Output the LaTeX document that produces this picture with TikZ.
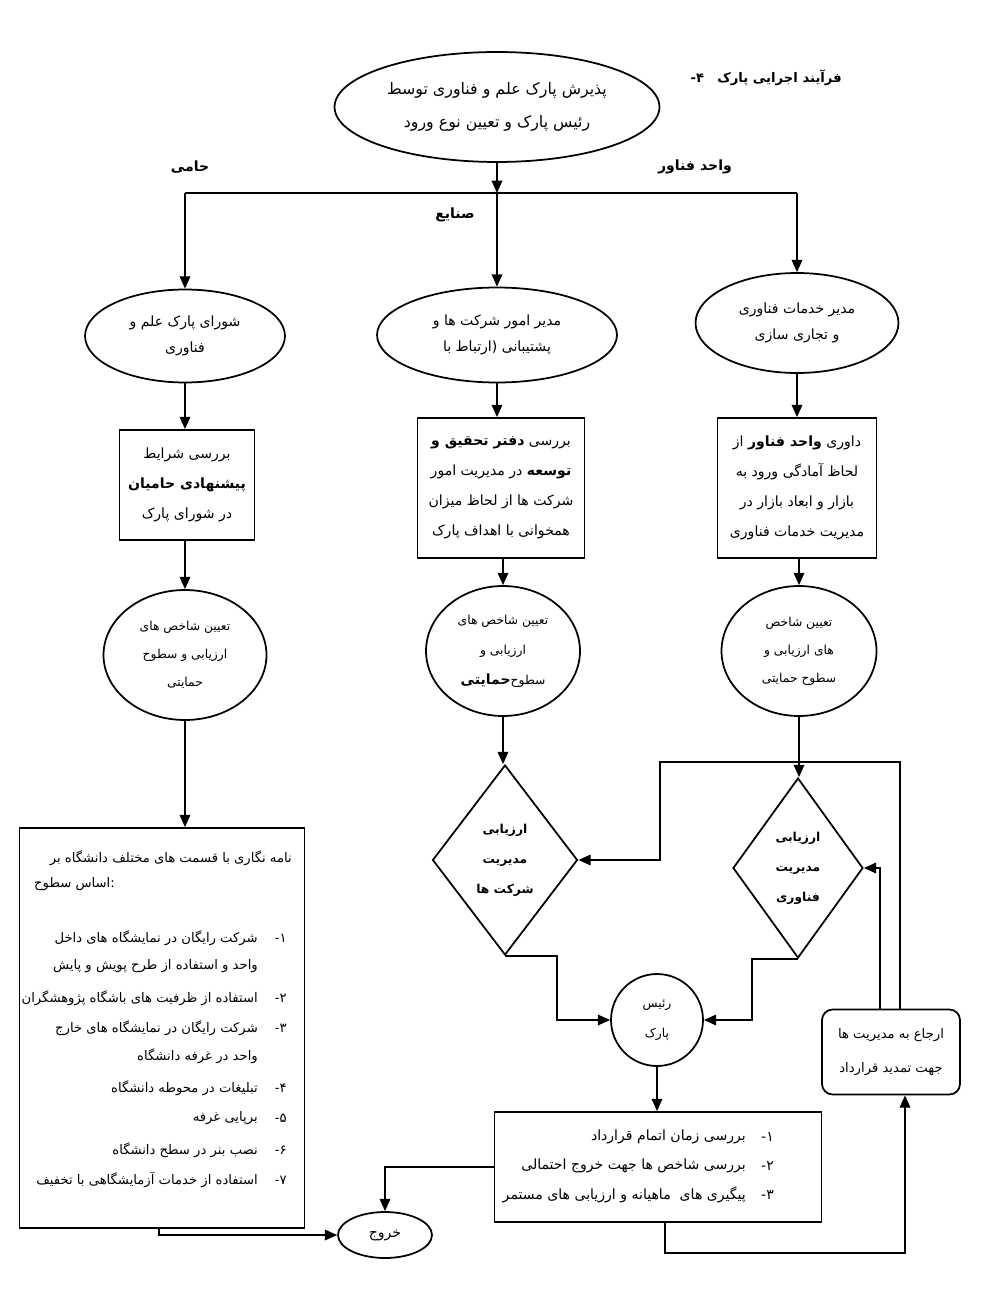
\documentclass[tikz,border=0pt]{standalone}
\usepackage{fontspec}
\setmainfont{DejaVu Sans}
\newfontfamily\farsi[Script=Arabic]{DejaVu Sans}
\TeXXeTstate=1
\usetikzlibrary{arrows.meta,positioning,calc,shapes.geometric}
\newcommand{\rl}[1]{\beginR #1\endR}

\begin{document}
\begin{tikzpicture}[x=0.02cm,y=-0.02cm,
  every node/.style={font=\farsi\fontsize{8}{15}\selectfont},
  oval/.style={draw,line width=1pt,ellipse,inner sep=0pt,align=center},
  box/.style={draw,line width=1pt,rectangle,inner sep=0pt,align=center},
  rhomb/.style={draw,line width=1pt,diamond,aspect=0.75,inner sep=0pt,align=center},
  item/.style={anchor=east,font=\farsi\fontsize{7.5}{15}\selectfont},
  flow/.style={line width=1pt,-{Triangle[length=7pt,width=6pt]}},
  link/.style={line width=1pt}]
  \useasboundingbox (0,0) rectangle (1000,1294);

  % entry and the three routes
  \node[anchor=east,font=\farsi\bfseries\fontsize{7.5}{15}\selectfont] (title) at (848,78) {۴-\quad\rl{فرآیند اجرایی پارک}};
  \node[oval,minimum width=6.5cm,minimum height=2.2cm,font=\farsi\fontsize{9}{19}\selectfont] (entry) at (497,107)
    {\rl{پذیرش پارک علم و فناوری توسط}\\\rl{رئیس پارک و تعیین نوع ورود}};
  \coordinate (split) at (497,193);
  \coordinate (splitL) at (185,193);
  \coordinate (splitR) at (797,193);
  \node[font=\farsi\bfseries\fontsize{8}{15}\selectfont] (hami) at (190,167) {\rl{حامی}};
  \node[font=\farsi\bfseries\fontsize{8}{15}\selectfont] (vahed) at (695,167) {\rl{واحد فناور}};
  \node[font=\farsi\bfseries\fontsize{8}{15}\selectfont] (sanaye) at (455,215) {\rl{صنایع}};

  \node[oval,minimum width=4cm,minimum height=1.86cm] (council) at (185,336)
    {\rl{شورای پارک علم و}\\\rl{فناوری}};
  \node[oval,minimum width=4.8cm,minimum height=1.9cm] (affairs) at (497,335)
    {\rl{مدیر امور شرکت ها و}\\\rl{پشتیبانی (ارتباط با}};
  \node[oval,minimum width=4.06cm,minimum height=2cm] (techsrv) at (797,323)
    {\rl{مدیر خدمات فناوری}\\\rl{و تجاری سازی}};

  \node[box,minimum width=2.7cm,minimum height=2.2cm,font=\farsi\fontsize{8}{17}\selectfont] (reviewL) at (187,485)
    {\rl{بررسی شرایط}\\\rl{\bfseries پیشنهادی حامیان}\\\rl{در شورای پارک}};
  \node[box,minimum width=3.34cm,minimum height=2.8cm,font=\farsi\fontsize{8}{17}\selectfont] (reviewM) at (501,488)
    {\rl{بررسی {\bfseries دفتر تحقیق و}}\\\rl{{\bfseries توسعه} در مدیریت امور}\\\rl{شرکت ها از لحاظ میزان}\\\rl{همخوانی با اهداف پارک}};
  \node[box,minimum width=3.18cm,minimum height=2.8cm,font=\farsi\fontsize{8}{17}\selectfont] (reviewR) at (797,488)
    {\rl{داوری {\bfseries واحد فناور} از}\\\rl{لحاظ آمادگی ورود به}\\\rl{بازار و ابعاد بازار در}\\\rl{مدیریت خدمات فناوری}};

  \node[oval,minimum width=3.26cm,minimum height=2.6cm,font=\farsi\fontsize{7}{16}\selectfont] (indexL) at (185,655)
    {\rl{تعیین شاخص های}\\\rl{ارزیابی و سطوح}\\\rl{حمایتی}};
  \node[oval,minimum width=3.08cm,minimum height=2.6cm,font=\farsi\fontsize{7}{17}\selectfont] (indexM) at (503,651)
    {\rl{تعیین شاخص های}\\\rl{ارزیابی و}\\\rl{سطوح{\bfseries\fontsize{8}{17}\selectfont حمایتی}}};
  \node[oval,minimum width=3.1cm,minimum height=2.6cm,font=\farsi\fontsize{7}{16}\selectfont] (indexR) at (799,651)
    {\rl{تعیین شاخص}\\\rl{های ارزیابی و}\\\rl{سطوح حمایتی}};

  \node[rhomb,minimum width=2.9cm,minimum height=3.8cm,font=\farsi\bfseries\fontsize{7}{17}\selectfont] (evalM) at (505,860)
    {\rl{ارزیابی}\\\rl{مدیریت}\\\rl{شرکت ها}};
  \node[rhomb,minimum width=2.6cm,minimum height=3.6cm,font=\farsi\bfseries\fontsize{7}{17}\selectfont] (evalR) at (798,868)
    {\rl{ارزیابی}\\\rl{مدیریت}\\\rl{فناوری}};

  \node[oval,circle,minimum size=1.84cm,font=\farsi\fontsize{7}{17}\selectfont] (head) at (657,1020)
    {\rl{رئیس}\\\rl{پارک}};
  \node[box,minimum width=6.54cm,minimum height=2.2cm] (checks) at (658,1167) {};
  \node[anchor=east] (chk1n) at (780,1137) {\rl{۱-}};
  \node[anchor=east] (chk1) at (752,1137) {\rl{بررسی زمان اتمام قرارداد}};
  \node[anchor=east] (chk2n) at (780,1166) {\rl{۲-}};
  \node[anchor=east] (chk2) at (752,1166) {\rl{بررسی شاخص ها جهت خروج احتمالی}};
  \node[anchor=east] (chk3n) at (780,1195) {\rl{۳-}};
  \node[anchor=east] (chk3) at (752,1195) {\rl{پیگیری های\ \ ماهیانه و ارزیابی های مستمر}};
  \node[box,rounded corners=6pt,minimum width=2.76cm,minimum height=1.7cm,font=\farsi\fontsize{7.5}{19}\selectfont] (renew) at (891,1052)
    {\rl{ارجاع به مدیریت ها}\\\rl{جهت تمدید قرارداد}};
  \coordinate (loopTop) at (660,762);

  % sponsor letters
  \node[box,minimum width=5.7cm,minimum height=8cm] (notes) at (162,1028) {};
  \node[item] (n0) at (298,858) {\rl{نامه نگاری با قسمت های مختلف دانشگاه بر}};
  \node[item,anchor=west] (n0b) at (28,884) {\rl{اساس سطوح}:};
  \node[item] (n1n) at (293,938) {\rl{۱-}};
  \node[item] (n1) at (264,938) {\rl{شرکت رایگان در نمایشگاه های داخل}};
  \node[item] (n1b) at (264,966) {\rl{واحد و استفاده از طرح پویش و پایش}};
  \node[item] (n2n) at (293,998) {\rl{۲-}};
  \node[item] (n2) at (264,998) {\rl{استفاده از ظرفیت های باشگاه پژوهشگران}};
  \node[item] (n3n) at (293,1028) {\rl{۳-}};
  \node[item] (n3) at (264,1028) {\rl{شرکت رایگان در نمایشگاه های خارج}};
  \node[item] (n3b) at (264,1056) {\rl{واحد در غرفه دانشگاه}};
  \node[item] (n4n) at (293,1088) {\rl{۴-}};
  \node[item] (n4) at (264,1088) {\rl{تبلیغات در محوطه دانشگاه}};
  \node[item] (n5n) at (293,1118) {\rl{۵-}};
  \node[item] (n5) at (264,1118) {\rl{برپایی غرفه}};
  \node[item] (n6n) at (293,1150) {\rl{۶-}};
  \node[item] (n6) at (264,1150) {\rl{نصب بنر در سطح دانشگاه}};
  \node[item] (n7n) at (293,1180) {\rl{۷-}};
  \node[item] (n7) at (264,1180) {\rl{استفاده از خدمات آزمایشگاهی با تخفیف}};
  \node[oval,minimum width=1.88cm,minimum height=0.92cm] (exit) at (385,1235) {\rl{خروج}};

  % connectors
  \draw[flow] (entry.south) -- (split);
  \draw[link] (splitL) -- (splitR);
  \draw[flow] (splitL) -- (council.north);
  \draw[flow] (split) -- (affairs.north);
  \draw[flow] (splitR) -- (techsrv.north);
  \draw[flow] (council.south) -- (council.south |- reviewL.north);
  \draw[flow] (affairs.south) -- (affairs.south |- reviewM.north);
  \draw[flow] (techsrv.south) -- (techsrv.south |- reviewR.north);
  \draw[flow] (reviewL.south -| indexL.north) -- (indexL.north);
  \draw[flow] (reviewM.south -| indexM.north) -- (indexM.north);
  \draw[flow] (reviewR.south -| indexR.north) -- (indexR.north);
  \draw[flow] (indexL.south) -- (indexL.south |- notes.north);
  \draw[flow] (indexM.south) -- (indexM.south |- evalM.north);
  \draw[flow] (indexR.south) -- (indexR.south |- evalR.north);
  \draw[flow] (evalM.south) -- ++(52,0) |- (head.west);
  \draw[flow] (evalR.south) -- ++(-46,0) |- (head.east);
  \draw[flow] (head.south) -- (head.south |- checks.north);
  \draw[flow] ($(checks.south)+(7,0)$) -- ++(0,30) -| ($(renew.south)+(14,0)$);
  \draw[flow] ($(renew.north)+(-11,0)$) |- (evalR.east);
  \draw[flow] ($(renew.north)+(9,0)$) |- (loopTop) |- (evalM.east);
  \draw[flow] (checks.west) -| (exit.north);
  \draw[flow] ($(notes.south)+(-3,0)$) |- (exit.west);
\end{tikzpicture}
\end{document}
